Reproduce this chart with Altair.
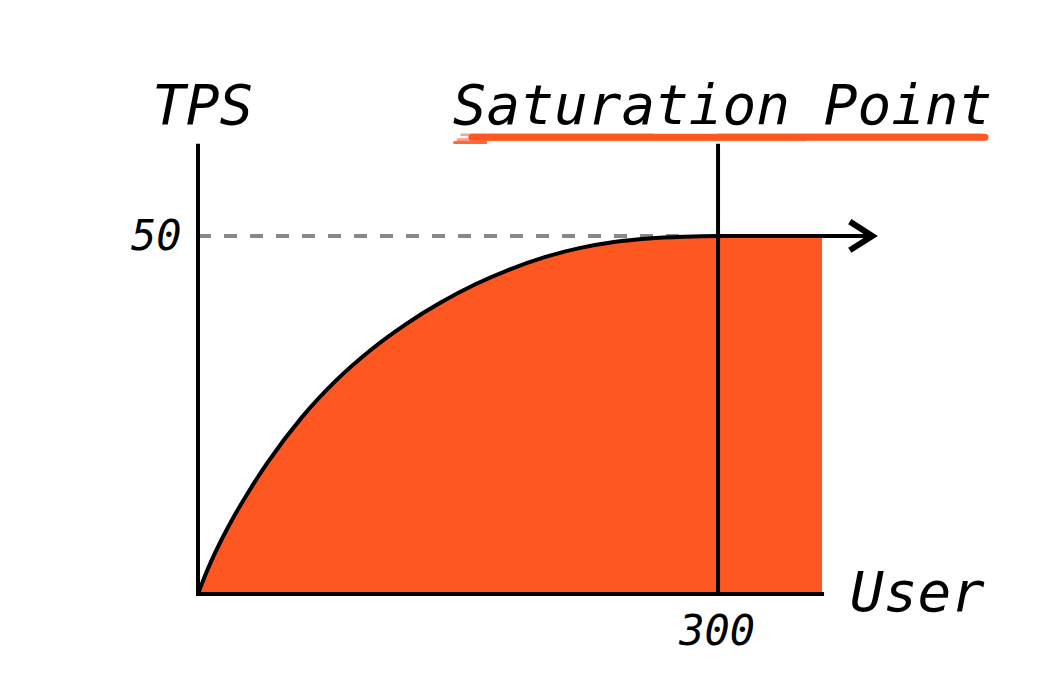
import altair as alt
import pandas as pd

# Curve data (users -> TPS)
users = [0, 5, 10, 20, 30, 40, 60, 80, 100, 120, 140, 160, 180, 200, 220, 240, 260, 280, 300]
tps = [0, 3.1, 5.8, 10.5, 14.6, 18.3, 24.7, 29.9, 34.15, 37.7, 40.7, 43.25, 45.35, 47.05, 48.3, 49.15, 49.65, 49.9, 50]
fill_end = 360
arrow_end = 388
saturation_users = 300
saturation_tps = 50
axis_top = 62.6

x_tick_labels = ["300"]
y_tick_labels = ["50"]

ORANGE = "#FF5722"
FONT = "DejaVu Sans Mono"

x_scale = alt.Scale(domain=[-109.6, 493.8], nice=False, zero=False)
y_scale = alt.Scale(domain=[-13.69, 81.84], nice=False, zero=False)

area_df = pd.DataFrame({"u": users + [fill_end], "t": tps + [saturation_tps]})
line_df = pd.DataFrame({"u": users + [fill_end, arrow_end], "t": tps + [saturation_tps, saturation_tps]})

X = lambda f="u": alt.X(f"{f}:Q", scale=x_scale, axis=None)
Y = lambda f="t": alt.Y(f"{f}:Q", scale=y_scale, axis=None)

area = alt.Chart(area_df).mark_area(color=ORANGE, interpolate="monotone").encode(
    x=X(), y=Y(), y2=alt.datum(0)
)

curve = alt.Chart(line_df).mark_line(color="black", strokeWidth=4, interpolate="monotone").encode(
    x=X(), y=Y()
)

# dashed guide at 50
dash_df = pd.DataFrame({"u": [0], "u2": [285], "t": [saturation_tps]})
dash = alt.Chart(dash_df).mark_rule(color="#888888", strokeWidth=4, strokeDash=[13, 13]).encode(
    x=X(), x2="u2:Q", y=Y()
)

# axes lines
axes_df = pd.DataFrame({
    "u": [0, 0, saturation_users],
    "u2": [fill_end, 0, saturation_users],
    "t": [0, 0, 0],
    "t2": [0, axis_top, axis_top],
})
axes = alt.Chart(axes_df).mark_rule(color="black", strokeWidth=4, strokeCap="square").encode(
    x=X(), x2="u2:Q", y=Y(), y2="t2:Q"
)

# arrow head
head_df = pd.DataFrame({"u": [376, arrow_end + 1, 376], "t": [52.0, 50, 48.0], "o": [0, 1, 2]})
head = alt.Chart(head_df).mark_line(color="black", strokeWidth=6, strokeJoin="miter", strokeCap="butt").encode(
    x=X(), y=Y(), order="o:Q"
)

# brush underline strokes
brush_df = pd.DataFrame({
    "u": [158, 150, 152, 148, 200, 300],
    "u2": [454, 350, 262, 166, 440, 452],
    "t": [63.8, 63.45, 64.15, 63.05, 63.6, 64.0],
    "w": [7, 3, 2.5, 3, 3, 4],
    "op": [1.0, 0.6, 0.55, 0.9, 0.9, 1.0],
})
brush = alt.Chart(brush_df).mark_rule(color=ORANGE, strokeCap="round").encode(
    x=X(), x2="u2:Q", y=Y(),
    strokeWidth=alt.StrokeWidth("w:Q", scale=None),
    opacity=alt.Opacity("op:Q", scale=None),
)

def label(text, u, t, size, align="left"):
    df = pd.DataFrame({"u": [u], "t": [t], "s": [text]})
    return alt.Chart(df).mark_text(
        font=FONT, fontStyle="italic", fontSize=size, align=align,
        baseline="alphabetic", color="black",
    ).encode(x=X(), y=Y(), text="s:N")

texts = [
    label("TPS", -26.5, 65.6, 56),
    label("Saturation Point", 302.6, 65.6, 56, "center"),
    label("User", 415, -2.4, 56, "center"),
    label(y_tick_labels[0], -9.5, 48.0, 42, "right"),
    label(x_tick_labels[0], 299.5, -7.1, 42, "center"),
]

chart = alt.layer(area, dash, curve, axes, head, brush, *texts).properties(
    width=1046, height=684, padding=0,
    autosize=alt.AutoSizeParams(type="none"),
    background="white",
).configure_view(stroke=None)

chart.save("out.html", embed_options={"renderer": "svg", "actions": False})
